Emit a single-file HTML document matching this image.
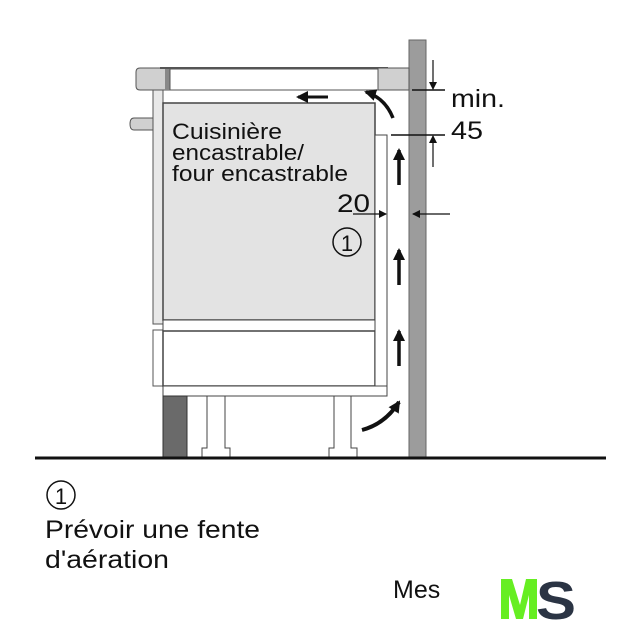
<!DOCTYPE html>
<html><head><meta charset="utf-8"><style>
html,body{margin:0;padding:0;background:#fff;width:640px;height:640px;overflow:hidden}
svg{display:block}
text{font-family:"Liberation Sans",Arial,sans-serif;fill:#111}
</style></head><body>
<svg width="640" height="640" viewBox="0 0 640 640" xmlns="http://www.w3.org/2000/svg">
<defs>
<marker id="ah" markerWidth="8" markerHeight="8" refX="7" refY="4" orient="auto" markerUnits="userSpaceOnUse"><path d="M0,0 L8,4 L0,8 Z" fill="#111"/></marker>
<marker id="bh" markerWidth="12" markerHeight="12" refX="10" refY="6" orient="auto" markerUnits="userSpaceOnUse"><path d="M0,0 L12,6 L0,12 Z" fill="#111"/></marker>
</defs>
<rect x="409" y="40" width="17" height="418" fill="#9c9c9c" stroke="#666" stroke-width="1"/>
<path d="M140,68 H170 V90 H140 Q136,90 136,86 V72 Q136,68 140,68 Z" fill="#d0d0d0" stroke="#555"/>
<rect x="165" y="68" width="5" height="22" fill="#888"/>
<rect x="170" y="69" width="208" height="21" fill="#fff" stroke="#555"/>
<line x1="160" y1="68" x2="388" y2="68" stroke="#555" stroke-width="2"/>
<rect x="378" y="68" width="31" height="22" fill="#d0d0d0" stroke="#555"/>
<path d="M153,118 H134 Q130,118 130,124 Q130,130 134,130 H153" fill="#d0d0d0" stroke="#555"/>
<rect x="153" y="90" width="10" height="234" fill="#e8e8e8" stroke="#555"/>
<rect x="153" y="330" width="10" height="56" fill="#fff" stroke="#555"/>
<rect x="163" y="103" width="212" height="217" fill="#e3e3e3" stroke="#444" stroke-width="1.5"/>
<rect x="163" y="320" width="212" height="11" fill="#fff" stroke="#444"/>
<rect x="163" y="331" width="212" height="55" fill="#fff" stroke="#444" stroke-width="1.5"/>
<rect x="375" y="135" width="12" height="251" fill="#fff" stroke="#444"/>
<rect x="163" y="386" width="224" height="10" fill="#fff" stroke="#444"/>
<rect x="163" y="396" width="24" height="62" fill="#6a6a6a" stroke="#333"/>
<path d="M207,396 V448 H202 V458 H230 V448 H225 V396 Z" fill="#fff" stroke="#444"/>
<path d="M334,396 V448 H329 V458 H357 V448 H351 V396 Z" fill="#fff" stroke="#444"/>
<line x1="35" y1="458" x2="606" y2="458" stroke="#111" stroke-width="3"/>
<line x1="399" y1="185" x2="399" y2="150" stroke="#111" stroke-width="3.5" marker-end="url(#bh)"/>
<line x1="399" y1="285" x2="399" y2="250" stroke="#111" stroke-width="3.5" marker-end="url(#bh)"/>
<line x1="399" y1="366" x2="399" y2="331" stroke="#111" stroke-width="3.5" marker-end="url(#bh)"/>
<path d="M362,430 Q385,424 399,402" fill="none" stroke="#111" stroke-width="4" marker-end="url(#bh)"/>
<line x1="328" y1="97" x2="298" y2="97" stroke="#111" stroke-width="3" marker-end="url(#bh)"/>
<path d="M393,118 Q385,98 366,92" fill="none" stroke="#111" stroke-width="3.5" marker-end="url(#bh)"/>
<line x1="412" y1="90" x2="445" y2="90" stroke="#111" stroke-width="1.5"/>
<line x1="391" y1="135" x2="445" y2="135" stroke="#111" stroke-width="1.5"/>
<line x1="433" y1="60" x2="433" y2="89" stroke="#111" stroke-width="1.2" marker-end="url(#ah)"/>
<line x1="433" y1="167" x2="433" y2="136" stroke="#111" stroke-width="1.2" marker-end="url(#ah)"/>
<line x1="353" y1="214" x2="386" y2="214" stroke="#111" stroke-width="1.2" marker-end="url(#ah)"/>
<line x1="450" y1="214" x2="413" y2="214" stroke="#111" stroke-width="1.2" marker-end="url(#ah)"/>
<text x="451" y="107" font-size="25" textLength="54" lengthAdjust="spacingAndGlyphs">min.</text>
<text x="451" y="139" font-size="25" textLength="32" lengthAdjust="spacingAndGlyphs">45</text>
<text x="337" y="212" font-size="25" textLength="33" lengthAdjust="spacingAndGlyphs">20</text>
<circle cx="347" cy="242" r="14" fill="none" stroke="#111" stroke-width="1.5"/>
<text x="347" y="251" font-size="22" text-anchor="middle">1</text>
<text x="172" y="139" font-size="22" textLength="110" lengthAdjust="spacingAndGlyphs">Cuisinière</text>
<text x="172" y="160" font-size="22" textLength="132" lengthAdjust="spacingAndGlyphs">encastrable/</text>
<text x="172" y="181" font-size="22" textLength="176" lengthAdjust="spacingAndGlyphs">four encastrable</text>
<circle cx="61" cy="495" r="14" fill="none" stroke="#111" stroke-width="1.5"/>
<text x="61" y="504" font-size="22" text-anchor="middle">1</text>
<text x="45" y="538" font-size="25" textLength="215" lengthAdjust="spacingAndGlyphs">Prévoir une fente</text>
<text x="45" y="568" font-size="25" textLength="124" lengthAdjust="spacingAndGlyphs">d'aération</text>
<text x="393" y="598" font-size="25">Mes</text>
<rect x="440" y="570" width="60" height="40" fill="#fff"/>
<path d="M501,579 H512 L520,605 L526,579 H537 V619 H529 V595 L523,619 H516 L509,595 V619 H501 Z" fill="#66ee22"/>
<text x="556" y="619" font-size="54" font-weight="bold" style="fill:#2b3444" text-anchor="middle" textLength="40" lengthAdjust="spacingAndGlyphs">S</text>
</svg>
</body></html>
